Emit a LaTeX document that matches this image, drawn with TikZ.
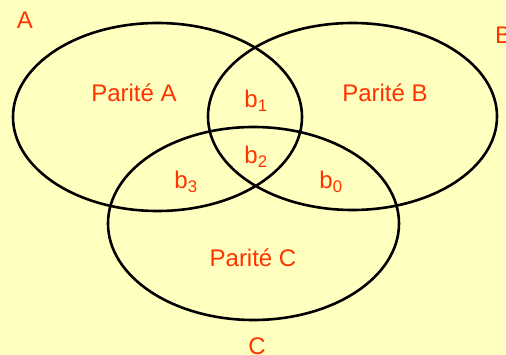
\documentclass[tikz,border=0pt]{standalone}
\usepackage{fontspec}
\setmainfont{Liberation Sans}
\usetikzlibrary{shapes.geometric}
\definecolor{bgyellow}{HTML}{FFFFC0}
\definecolor{labelred}{HTML}{FF3300}

\begin{document}
\begin{tikzpicture}[
  x=1pt, y=-1pt,
  font=\fontsize{24}{28}\selectfont,
  set/.style={draw, ellipse, line width=2.6pt, inner sep=0pt, outer sep=0pt},
  lbl/.style={text=labelred, inner sep=0pt}
]
\fill[bgyellow] (0,0) rectangle (506,355);
\useasboundingbox (0,0) rectangle (506,355);
\clip (0,0) rectangle (506,355);

% the three sets
\node[set, minimum width=289pt, minimum height=188pt] (setA) at (157.5,117) {};
\node[set, minimum width=289pt, minimum height=187pt] (setB) at (352.5,116.5) {};
\node[set, minimum width=291pt, minimum height=193pt] (setC) at (253.5,223.5) {};

% set names
\node[lbl] (nameA) at (25,20) {A};
\node[lbl, anchor=west] (nameB) at (495,35) {B};
\node[lbl] (nameC) at (257,346) {C};

% regions
\node[lbl] (parA) at (134,93) {Parité A};
\node[lbl] (parB) at (385,93) {Parité B};
\node[lbl] (parC) at (253,258) {Parité C};
\node[lbl] (bOne) at (256,101) {b\textsubscript{1}};
\node[lbl] (bTwo) at (256,157) {b\textsubscript{2}};
\node[lbl] (bThree) at (186,182) {b\textsubscript{3}};
\node[lbl] (bZero) at (331,182) {b\textsubscript{0}};
\end{tikzpicture}
\end{document}
